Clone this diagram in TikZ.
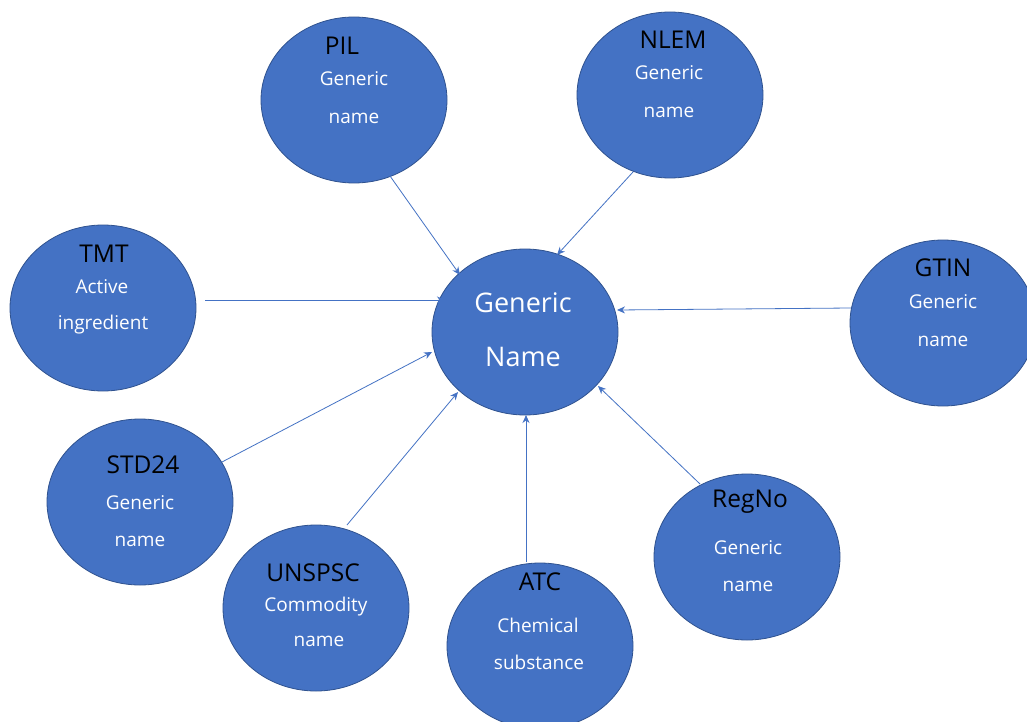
\documentclass[tikz,border=0pt]{standalone}
\usepackage{fontspec}
\setmainfont{Open Sans}
\usetikzlibrary{arrows.meta,shapes.geometric}
\definecolor{bubble}{HTML}{4472C4}
\definecolor{bubbleedge}{HTML}{2F528F}
\begin{document}
\begin{tikzpicture}[x=1pt,y=-1pt,
  bubble/.style={ellipse,draw=bubbleedge,line width=0.8pt,fill=bubble,
    minimum width=186pt,minimum height=166pt,inner sep=0pt},
  ttl/.style={font=\fontsize{24.5}{26}\selectfont,text=black},
  txt/.style={font=\fontsize{19}{21}\selectfont,text=white},
  big/.style={font=\fontsize{27}{30}\selectfont,text=white},
  link/.style={draw=bubble,line width=0.8pt,-{Stealth[length=8pt,width=7pt]}}]
\useasboundingbox (0,0) rectangle (1027,722);
\clip (0,0) rectangle (1027,722);
\fill[white] (0,0) rectangle (1027,722);

% bubbles
\node[bubble] (gn) at (525,332) {};
\node[bubble] (pil) at (354,100) {};
\node[bubble] (nlem) at (670,95) {};
\node[bubble] (tmt) at (103,308) {};
\node[bubble] (gtin) at (943,323) {};
\node[bubble] (std) at (140,502) {};
\node[bubble] (unspsc) at (316,608) {};
\node[bubble] (atc) at (540,646) {};
\node[bubble] (regno) at (747,557) {};

% labels
\node[big] (gn1) at (523,303) {Generic};
\node[big] (gn2) at (523,357) {Name};

\node[ttl] (pilt) at (342,46) {PIL};
\node[txt] (pil1) at (354,79) {Generic};
\node[txt] (pil2) at (354,118) {name};

\node[ttl] (nlemt) at (673,40) {NLEM};
\node[txt] (nlem1) at (669,73) {Generic};
\node[txt] (nlem2) at (669,112) {name};

\node[ttl] (tmtt) at (104,254) {TMT};
\node[txt] (tmt1) at (102,287) {Active};
\node[txt] (tmt2) at (103,325) {ingredient};

\node[ttl] (gtint) at (943,268) {GTIN};
\node[txt] (gtin1) at (943,302) {Generic};
\node[txt] (gtin2) at (943,341) {name};

\node[ttl] (stdt) at (143,465) {STD24};
\node[txt] (std1) at (140,503) {Generic};
\node[txt] (std2) at (140,541) {name};

\node[ttl] (unspsct) at (313,573) {UNSPSC};
\node[txt] (unspsc1) at (316,607) {Commodity};
\node[txt] (unspsc2) at (319,641) {name};

\node[ttl] (atct) at (540,582) {ATC};
\node[txt] (atc1) at (538,625) {Chemical};
\node[txt] (atc2) at (539,662) {substance};

\node[ttl] (regnot) at (750,502) {RegNo};
\node[txt] (regno1) at (748,548) {Generic};
\node[txt] (regno2) at (748,586) {name};

% connector end points
\coordinate (a1) at (390,176);  \coordinate (b1) at (460,275);
\coordinate (a2) at (633,172);  \coordinate (b2) at (557,255);
\coordinate (a3) at (205,300);  \coordinate (b3) at (445,300);
\coordinate (a4) at (851,308);  \coordinate (b4) at (617,310);
\coordinate (a5) at (222,462);  \coordinate (b5) at (432,352);
\coordinate (a6) at (347,525);  \coordinate (b6) at (458,392);
\coordinate (a7) at (526,562);  \coordinate (b7) at (526,415);
\coordinate (a8) at (700,484);  \coordinate (b8) at (598,386);

\draw[link] (a1) -- (b1);
\draw[link] (a2) -- (b2);
\draw[link] (a3) -- (b3);
\draw[link] (a4) -- (b4);
\draw[link] (a5) -- (b5);
\draw[link] (a6) -- (b6);
\draw[link] (a7) -- (b7);
\draw[link] (a8) -- (b8);
\end{tikzpicture}
\end{document}
